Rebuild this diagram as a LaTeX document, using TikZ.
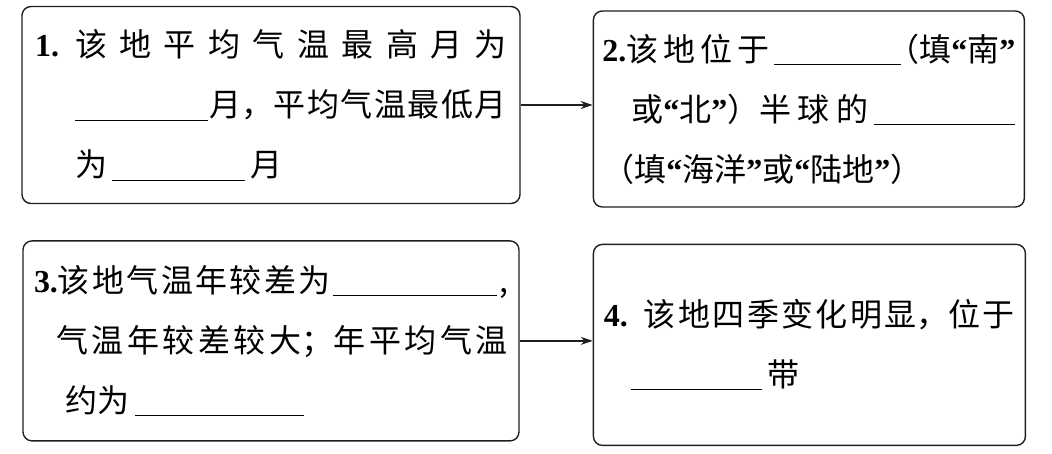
\documentclass[tikz,border=0pt]{standalone}
\usepackage{fontspec}
\setmainfont{Liberation Serif}
\newfontfamily\cjk{Noto Sans CJK SC}
\usepackage{tikz}
\usetikzlibrary{arrows.meta,positioning}
\definecolor{cardink}{gray}{0.12}
\newcommand\qnum[1]{{\rmfamily\bfseries #1}}
\newcommand\blank[1]{\rule[-4pt]{#1}{1pt}}
\newcommand\oq{{\rmfamily\bfseries “}}
\newcommand\cq{{\rmfamily\bfseries ”}}
\newcommand\spread[2]{\makebox[#1][s]{\spaceskip=0pt plus 1fil\relax#2}}

\begin{document}
\begin{tikzpicture}[
  card/.style={draw=cardink,rounded corners=9pt,line width=1.4pt,align=left,
    font=\cjk\fontsize{32}{60}\selectfont},
  link/.style={-{Stealth[length=12pt,width=8pt]},line width=1.2pt,draw=cardink}]
\useasboundingbox (0,0) rectangle (1052pt,-454pt);
\node[card,minimum width=498pt,minimum height=197pt,text width=472pt] (hot) at (271pt,-105pt)
  {\spread{\linewidth}{\qnum{1.} 该 地 平 均 气 温 最 高 月 为}\\
   \hspace*{40pt}\spread{\dimexpr\linewidth-40pt\relax}{\blank{133pt} 月，平 均 气 温 最 低 月}\\
   \hspace*{40pt}为\,\blank{133pt}\,月};
\node[card,minimum width=431pt,minimum height=196pt,text width=413pt,
  right=72pt of hot,yshift=-4pt] (hemi)
  {\spread{\linewidth}{\qnum{2.}该 地 位 于 \blank{127pt}\kern-14pt（填\oq 南\cq}\\
   \hspace*{29pt}\spread{\dimexpr\linewidth-29pt\relax}{或\oq 北\cq）半 球 的 \blank{141pt}}\\
   （填\oq 海洋\cq 或\oq 陆地\cq）};
\node[card,minimum width=496pt,minimum height=200pt,text width=474pt,
  below=36pt of hot] (range)
  {\spread{\linewidth}{\qnum{3.}该 地 气 温 年 较 差 为 \blank{164pt} ,}\\
   \hspace*{22pt}\spread{\dimexpr\linewidth-22pt\relax}{气 温 年 较 差 较 大；年 平 均 气 温}\\
   \hspace*{32pt}约为\,\blank{169pt}};
\node[card,minimum width=432pt,minimum height=201pt,text width=411pt,
  right=73pt of range,yshift=-4pt] (zone)
  {\spread{\linewidth}{\qnum{4.} 该 地 四 季 变 化 明 显，位 于}\\
   \hspace*{27pt}\blank{131pt}\,带};
\draw[link] (hot.east) -- (hot.east -| hemi.west);
\draw[link] (range.east) -- (range.east -| zone.west);
\end{tikzpicture}
\end{document}
